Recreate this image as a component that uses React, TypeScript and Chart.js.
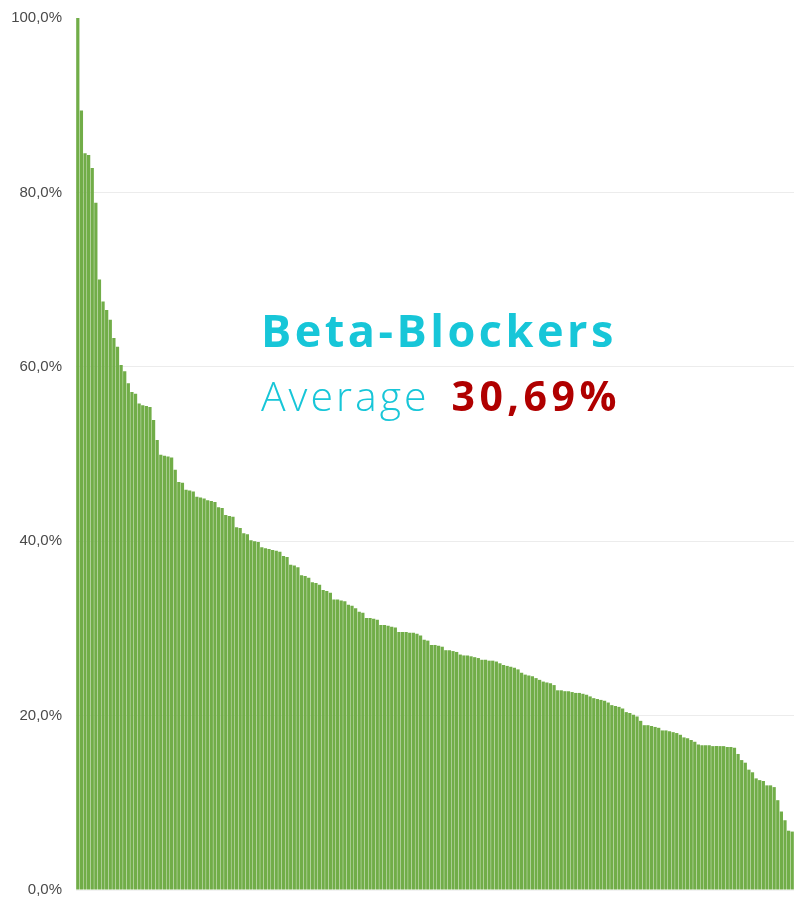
import React, { useEffect, useRef } from "react";
import { Chart, registerables } from "chart.js";

Chart.register(...registerables);

const values: number[] = [
  100, 89.4, 84.5, 84.3, 82.8, 78.8, 70.0, 67.5, 66.5, 65.4,
  63.3, 62.3, 60.2, 59.5, 58.1, 57.1, 56.9, 55.8, 55.6, 55.5,
  55.4, 53.9, 51.6, 49.9, 49.8, 49.7, 49.6, 48.2, 46.8, 46.7,
  45.9, 45.8, 45.7, 45.1, 45.0, 44.9, 44.7, 44.6, 44.5, 43.9,
  43.8, 43.0, 42.9, 42.8, 41.6, 41.5, 40.9, 40.8, 40.1, 40.0,
  39.9, 39.3, 39.2, 39.1, 39.0, 38.9, 38.8, 38.3, 38.2, 37.3,
  37.2, 37.0, 36.1, 36.0, 35.8, 35.3, 35.2, 35.0, 34.4, 34.3,
  34.1, 33.3, 33.3, 33.2, 33.1, 32.7, 32.6, 32.3, 31.9, 31.8,
  31.2, 31.2, 31.1, 31.0, 30.4, 30.4, 30.3, 30.2, 30.1, 29.6,
  29.6, 29.6, 29.5, 29.5, 29.4, 29.2, 28.7, 28.6, 28.1, 28.1,
  28.0, 27.9, 27.5, 27.5, 27.4, 27.3, 27.0, 26.9, 26.9, 26.8,
  26.7, 26.6, 26.4, 26.4, 26.3, 26.3, 26.2, 26.0, 25.8, 25.7,
  25.6, 25.5, 25.3, 24.9, 24.7, 24.6, 24.5, 24.3, 24.1, 23.9,
  23.8, 23.7, 23.5, 22.9, 22.9, 22.8, 22.8, 22.7, 22.6, 22.6,
  22.5, 22.4, 22.2, 22.0, 21.9, 21.8, 21.7, 21.5, 21.2, 21.1,
  21.0, 20.8, 20.4, 20.3, 20.1, 19.9, 19.4, 18.9, 18.9, 18.8,
  18.7, 18.6, 18.3, 18.3, 18.2, 18.1, 18.0, 17.8, 17.5, 17.4,
  17.2, 17.0, 16.7, 16.6, 16.6, 16.6, 16.5, 16.5, 16.5, 16.5,
  16.4, 16.4, 16.3, 15.6, 14.9, 14.6, 13.8, 13.5, 12.8, 12.6,
  12.5, 12.0, 12.0, 11.8, 10.3, 9.0, 8.0, 6.8, 6.7,
];

const categories: string[] = values.map((_, i) => String(i + 1));

const yTicks: number[] = [0, 20, 40, 60, 80, 100];

const titleText = "Beta-Blockers";
const averageLabel = "Average";
const averageValue = "30,69%";

export default function App() {
  const canvasRef = useRef<HTMLCanvasElement | null>(null);

  useEffect(() => {
    const canvas = canvasRef.current;
    if (!canvas) return;
    const chart = new Chart(canvas, {
      type: "bar",
      data: {
        labels: categories,
        datasets: [
          {
            data: values,
            backgroundColor: "#71ad48",
            borderWidth: 0,
            barPercentage: 0.9,
            categoryPercentage: 1.0,
          },
        ],
      },
      options: {
        responsive: false,
        animation: false,
        layout: { padding: { top: 18, bottom: 31, left: 0, right: 4 } },
        plugins: { legend: { display: false }, tooltip: { enabled: false } },
        scales: {
          x: {
            display: false,
          },
          y: {
            min: 0,
            max: 100,
            afterBuildTicks: (scale: any) => {
              scale.ticks = yTicks.map((v) => ({ value: v }));
            },
            afterFit: (scale: any) => {
              scale.width = 76;
              scale.paddingTop = 0;
              scale.paddingBottom = 0;
            },
            grid: {
              color: (ctx: any) =>
                ctx.tick && ctx.tick.value === 100
                  ? "rgba(0,0,0,0)"
                  : ctx.tick && ctx.tick.value === 0
                  ? "#f2f2f2"
                  : "#ececec",
              drawTicks: false,
            },
            border: { display: false },
            ticks: {
              padding: 14,
              color: "#4a4a4a",
              font: { family: "'Liberation Sans Narrow', 'Liberation Sans'", size: 15 },
              callback: (v: any) => Number(v).toFixed(1).replace(".", ",") + "%",
            },
          },
        },
      },
    });
    return () => chart.destroy();
  }, []);

  return (
    <div
      style={{
        position: "absolute",
        left: 0,
        top: 0,
        width: 798,
        height: 921,
        background: "#ffffff",
        overflow: "hidden",
      }}
    >
      <canvas ref={canvasRef} width={798} height={921} />
      <div
        style={{
          position: "absolute",
          left: 261,
          top: 300,
          fontFamily: "'Open Sans', sans-serif",
          color: "#17c6d8",
          whiteSpace: "nowrap",
        }}
      >
        <div style={{ fontSize: 45, fontWeight: 700, lineHeight: "60px", letterSpacing: "3.5px" }}>
          {titleText}
        </div>
        <div style={{ fontSize: 41, fontWeight: 300, lineHeight: "70px", letterSpacing: "3px" }}>
          {averageLabel}
          <span style={{ color: "#b00000", fontWeight: 700, marginLeft: 22, letterSpacing: "4.5px" }}>
            {averageValue}
          </span>
        </div>
      </div>
    </div>
  );
}
